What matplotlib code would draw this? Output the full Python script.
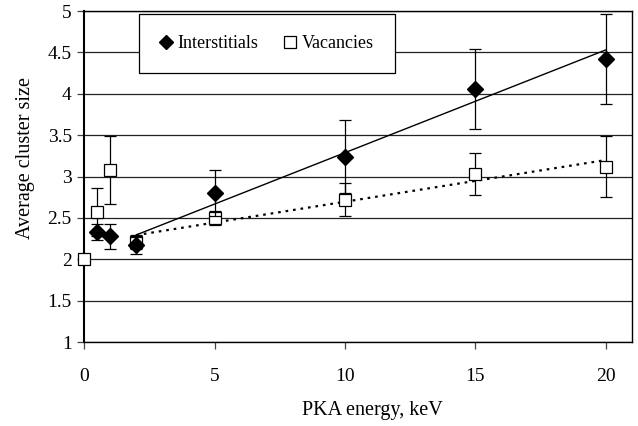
import matplotlib.pyplot as plt
from matplotlib.lines import Line2D
import numpy as np

plt.rcParams['font.family'] = ['Liberation Serif', 'DejaVu Serif']

# PKA energy (keV)
energy_i = [0.5, 1, 2, 5, 10, 15, 20]
size_i = [2.33, 2.28, 2.17, 2.80, 3.24, 4.06, 4.42]
err_i = [0.10, 0.15, 0.10, 0.28, 0.44, 0.48, 0.54]

energy_v = [0, 0.5, 1, 2, 5, 10, 15, 20]
size_v = [2.00, 2.57, 3.08, 2.21, 2.50, 2.72, 3.03, 3.12]
err_v = [0.0, 0.29, 0.41, 0.09, 0.08, 0.20, 0.25, 0.37]

fig = plt.figure(figsize=(6.38, 4.26), dpi=100)
ax = fig.add_axes([0.132, 0.197, 0.858, 0.777])

ax.errorbar(energy_i, size_i, yerr=err_i, fmt='D', color='black', ms=8,
            ecolor='black', elinewidth=0.9, capsize=4, capthick=0.9,
            zorder=4, clip_on=False)
ax.errorbar(energy_v, size_v, yerr=[e if e > 0 else np.nan for e in err_v],
            fmt='s', mfc='white', mec='black', mew=0.9, ms=9,
            ecolor='black', elinewidth=0.9, capsize=4, capthick=0.9,
            zorder=3, clip_on=False)

# linear trends over E >= 2 keV
xi = np.array(energy_i[2:]); yi = np.array(size_i[2:])
xv = np.array(energy_v[3:]); yv = np.array(size_v[3:])
pi = np.polyfit(xi, yi, 1)
pv = np.polyfit(xv, yv, 1)
xs = np.array([2, 20])
ax.plot(xs, np.polyval(pi, xs), color='black', lw=1.0, zorder=2)
ax.plot(xs, np.polyval(pv, xs), color='black', lw=1.6, ls=(0, (1.2, 2.2)), zorder=2)

ax.set_xlim(0, 21)
ax.set_ylim(1, 5)
ax.set_xticks([0, 5, 10, 15, 20])
ax.set_yticks(np.arange(1, 5.01, 0.5))
ax.set_yticklabels(['1', '1.5', '2', '2.5', '3', '3.5', '4', '4.5', '5'])
ax.yaxis.grid(True, color='#222222', lw=0.9)
ax.set_axisbelow(True)
ax.tick_params(labelsize=14, length=5, width=0.9, color='#444444')
ax.tick_params(axis='x', pad=14)
ax.tick_params(axis='y', pad=4)
for s in ax.spines.values():
    s.set_linewidth(1.0)
ax.spines['left'].set_linewidth(1.5)

ax.set_xlabel('PKA energy, keV', fontsize=14.5)
ax.set_ylabel('Average cluster size', fontsize=14.5)
ax.xaxis.set_label_coords(0.527, -0.178)
ax.yaxis.set_label_coords(-0.09, 0.556)

handles = [Line2D([], [], ls='none', marker='D', color='black', ms=7),
           Line2D([], [], ls='none', marker='s', mfc='white', mec='black', mew=0.9, ms=8)]
leg = ax.legend(handles, ['Interstitials', 'Vacancies'], loc='upper left',
                bbox_to_anchor=(0.1, 0.99), borderaxespad=0, ncol=2,
                fontsize=13, frameon=True, fancybox=False, edgecolor='black',
                borderpad=1.15, handletextpad=0.3, columnspacing=1.4,
                handlelength=0.7, framealpha=1)
leg.get_frame().set_linewidth(0.9)

fig.savefig('out.png', dpi=100)
